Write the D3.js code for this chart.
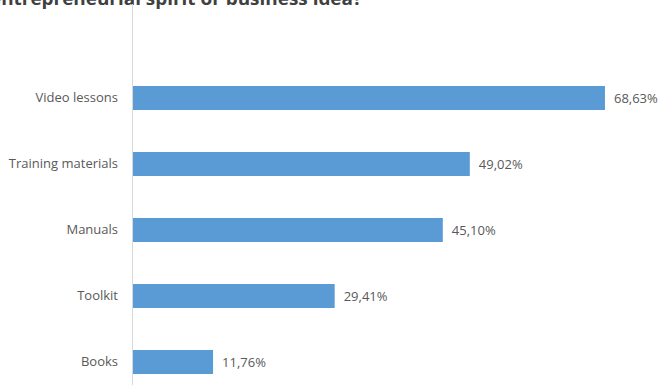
<!DOCTYPE html>
<html>
<head>
<meta charset="utf-8">
<script src="https://cdn.jsdelivr.net/npm/d3@7"></script>
<style>
  html, body { margin: 0; padding: 0; background: #fff; }
  svg { display: block; }
</style>
</head>
<body>
<div id="chart"></div>
<script>
// Survey answers: share of respondents per material type
const categories = ["Video lessons", "Training materials", "Manuals", "Toolkit", "Books"];
const values = [68.63, 49.02, 45.10, 29.41, 11.76];
const valueLabels = ["68,63%", "49,02%", "45,10%", "29,41%", "11,76%"];
const titleText = "entrepreneurial spirit or business idea?";

const width = 659, height = 385;
const font = "'Open Sans', sans-serif";

const svg = d3.select("#chart").append("svg")
  .attr("width", width).attr("height", height);

const x = d3.scaleLinear().domain([0, 70]).range([132, 614.4]);
const y = d3.scaleBand().domain(categories).range([44, 416]).padding(0.636);

// Title (top part runs off the canvas)
svg.append("text")
  .attr("x", 362).attr("y", 5)
  .attr("text-anchor", "end")
  .attr("font-family", font)
  .attr("font-weight", "bold")
  .attr("font-size", 17)
  .attr("textLength", 372)
  .attr("lengthAdjust", "spacingAndGlyphs")
  .attr("fill", "#404040")
  .text(titleText);

// Vertical category axis line
svg.append("line")
  .attr("x1", x(0) + 0.5).attr("x2", x(0) + 0.5)
  .attr("y1", 4).attr("y2", height)
  .attr("stroke", "#d9d9d9").attr("stroke-width", 1);

// Bars
svg.append("g").selectAll("rect")
  .data(categories)
  .join("rect")
  .attr("x", x(0) + 1)
  .attr("y", d => y(d))
  .attr("width", (d, i) => x(values[i]) - x(0) - 1)
  .attr("height", y.bandwidth())
  .attr("fill", "#5b9bd5");

// Category labels
const axis = svg.append("g")
  .attr("transform", `translate(${x(0)},0)`)
  .call(d3.axisLeft(y).tickSize(0).tickPadding(14));
axis.select(".domain").remove();
axis.selectAll("text")
  .attr("font-family", font)
  .attr("font-size", 13)
  .attr("fill", "#595959");

// Value labels
svg.append("g").selectAll("text")
  .data(categories)
  .join("text")
  .attr("x", (d, i) => x(values[i]) + 9)
  .attr("y", d => y(d) + y.bandwidth() / 2)
  .attr("dy", "0.35em")
  .attr("font-family", font)
  .attr("font-size", 13)
  .attr("fill", "#595959")
  .text((d, i) => valueLabels[i]);
</script>
</body>
</html>
